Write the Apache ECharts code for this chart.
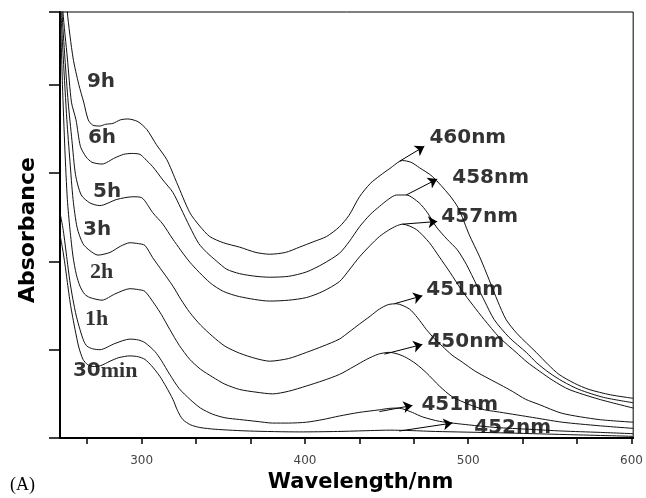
<!DOCTYPE html>
<html>
<head>
<meta charset="utf-8">
<script src="https://cdn.jsdelivr.net/npm/echarts@6/dist/echarts.min.js"></script>
<style>
  html, body { margin: 0; padding: 0; background: #fff; }
  #chart_content { width: 646px; height: 498px; }
</style>
</head>
<body>
<div id="chart_content"></div>
<script>
// absorbance curves, [wavelength nm, absorbance a.u.]
const curve9h = [[253.5,5.3],[254.5,4.82],[258,4.3],[261.5,4.0],[264.5,3.8],[267.3,3.6],[270,3.54],[274.4,3.53],[278,3.55],[282.4,3.56],[287,3.6],[291.6,3.61],[297.7,3.58],[303.2,3.49],[309,3.32],[315.4,3.15],[321.5,2.89],[329.5,2.55],[335.5,2.4],[341.7,2.28],[350,2.21],[360,2.16],[370,2.1],[378.4,2.08],[388,2.1],[396.7,2.16],[405,2.22],[413.2,2.28],[421.1,2.39],[427,2.52],[433.4,2.73],[440,2.88],[446,2.97],[452,3.05],[459.7,3.14],[465,3.12],[470,3.06],[478,2.96],[488.4,2.75],[494,2.6],[500.6,2.3],[507,2.05],[512.8,1.79],[518,1.55],[523.2,1.34],[530,1.18],[541.6,0.97],[549,0.83],[555.6,0.72],[565,0.62],[574,0.55],[587,0.49],[601,0.45]];
const curve6h = [[250.5,5.3],[251.8,4.82],[254.5,4.3],[257,3.8],[259.8,3.6],[262.5,3.3],[266,3.18],[269.6,3.12],[275.7,3.1],[283.6,3.17],[289,3.21],[294,3.22],[298.9,3.21],[302,3.16],[306.8,3.07],[313,2.92],[319.1,2.78],[324,2.6],[329.5,2.39],[335,2.2],[339.9,2.1],[346,2.0],[352.1,1.91],[360,1.86],[370,1.83],[378.4,1.82],[390,1.83],[401,1.88],[411,1.97],[421.1,2.09],[427,2.22],[433.4,2.39],[440,2.53],[445.6,2.62],[451,2.7],[456,2.75],[462.1,2.75],[470,2.66],[475,2.55],[480.4,2.39],[487,2.25],[493.3,2.13],[499,1.96],[504.9,1.74],[510,1.55],[515.9,1.34],[525,1.14],[535.5,0.97],[542,0.85],[549.5,0.74],[558,0.64],[567.8,0.55],[583,0.46],[601,0.4]];
const curve5h = [[250,5.3],[251.2,4.82],[253,4.3],[255,3.8],[257.3,3.37],[259.5,2.98],[263,2.75],[268.3,2.66],[274.4,2.63],[284.8,2.7],[294.6,2.73],[300,2.72],[306.8,2.55],[313,2.42],[319.1,2.25],[329.5,1.99],[341.7,1.76],[350,1.66],[360,1.6],[378.4,1.55],[390,1.56],[401,1.59],[411,1.66],[421.1,1.77],[427,1.9],[433.4,2.05],[440,2.18],[445.6,2.28],[451,2.35],[456,2.4],[459.7,2.42],[468.2,2.36],[476.2,2.21],[482.3,2.05],[489,1.87],[495.7,1.68],[503,1.5],[509.8,1.34],[519,1.14],[529.3,0.97],[536,0.86],[543.4,0.76],[552,0.65],[561.7,0.55],[580,0.44],[601,0.34]];
const curve3h = [[250.6,4.82],[252,4.3],[254.2,3.6],[256.1,3.13],[258,2.7],[260.5,2.38],[264,2.2],[268.3,2.12],[273.2,2.07],[280.6,2.1],[287,2.17],[292.8,2.21],[298,2.2],[302,2.18],[306.8,2.04],[313,1.88],[319.1,1.72],[324,1.57],[329.5,1.42],[336,1.28],[343.5,1.15],[351,1.04],[360,0.96],[370,0.9],[378.4,0.87],[390,0.9],[401,0.97],[411,1.04],[421.1,1.12],[427,1.2],[433.4,1.29],[440,1.38],[445.6,1.46],[451,1.51],[456,1.52],[464,1.46],[469,1.36],[474.3,1.23],[479,1.13],[484.1,1.04],[490,0.94],[496.3,0.86],[504,0.76],[512.8,0.67],[520,0.6],[526.9,0.53],[535,0.44],[543.4,0.38],[557.5,0.28],[580,0.21],[601,0.18]];
const curve2h = [[250.2,4.82],[251.5,4.0],[253,3.26],[254.5,2.7],[256.1,2.36],[258,2.05],[260,1.85],[262.2,1.72],[265,1.63],[268.3,1.59],[275.7,1.56],[283.6,1.63],[292.8,1.69],[298,1.68],[302,1.66],[308.1,1.51],[312,1.4],[317.2,1.23],[323,1.05],[329.5,0.89],[336,0.78],[343.5,0.69],[351,0.61],[360,0.55],[370,0.52],[380.2,0.5],[390,0.53],[401,0.59],[411,0.65],[421.1,0.72],[430,0.81],[437.7,0.89],[445,0.95],[451.7,0.97],[457,0.95],[462.1,0.91],[468,0.84],[474.3,0.74],[482.3,0.59],[490,0.47],[500.6,0.38],[510,0.32],[517,0.3],[537.3,0.24],[557.5,0.18],[580,0.14],[601,0.11]];
const curve1h = [[250,2.55],[252,2.35],[254.3,2.02],[256,1.78],[257.9,1.57],[260,1.38],[262.2,1.23],[264.5,1.1],[266.5,1.04],[270,1.01],[274.4,1.0],[283.6,1.07],[292.8,1.12],[298,1.11],[302,1.08],[308.1,0.98],[312,0.88],[317.2,0.72],[323,0.56],[329.5,0.44],[336,0.34],[343.5,0.27],[351,0.23],[360,0.21],[370,0.19],[380.2,0.17],[390,0.17],[401,0.18],[411,0.21],[421.1,0.25],[433,0.29],[445.6,0.32],[451,0.335],[456,0.34],[460,0.33],[465.8,0.29],[472,0.24],[482.3,0.19],[500,0.15],[517,0.12],[537,0.1],[557.5,0.08],[580,0.065],[601,0.05]];
const curve30min = [[250,2.3],[251.5,2.15],[253,1.97],[254.3,1.79],[256.5,1.5],[259.2,1.23],[261.5,1.03],[264.1,0.89],[267,0.83],[270.2,0.81],[275,0.82],[280.6,0.87],[286,0.91],[292.8,0.93],[298,0.92],[302,0.89],[306,0.82],[311.1,0.7],[315,0.58],[319.1,0.44],[322,0.31],[325.2,0.21],[330,0.15],[335.6,0.12],[345,0.1],[366.1,0.08],[396.7,0.07],[420,0.075],[440,0.085],[452,0.09],[465,0.085],[480,0.075],[518.9,0.06],[560,0.04],[601,0.02]];

const curveNames = ['9h', '6h', '5h', '3h', '2h', '1h', '30min'];
const curveData = [curve9h, curve6h, curve5h, curve3h, curve2h, curve1h, curve30min];
// where each time label sits (left edge, middle)
const curveTagAt = [[266.5,4.03],[267.1,3.4],[270.2,2.79],[264.1,2.36],[268.3,1.87],[265.3,1.34],[257.9,0.76]];

// peak arrows and their wavelength tags
const peakNames = ['460nm', '458nm', '457nm', '451nm', '450nm', '451nm', '452nm'];
const arrowFrom = [[457.8,3.13],[462,2.75],[459.7,2.42],[454.8,1.52],[448.7,0.95],[445.6,0.3],[457.8,0.08]];
const arrowTo = [[473.1,3.3],[481,2.93],[481,2.45],[471.9,1.61],[471.9,1.06],[465.8,0.37],[490.3,0.17]];
const peakTagAt = [[476.2,3.4],[490.2,2.95],[483.5,2.5],[474.3,1.68],[475,1.09],[471.3,0.38],[503.7,0.12]];

const xLabelTicks = [300, 400, 500, 600];
const xMinorTicks = [266.67, 300, 333.33, 366.67, 400, 433.33, 466.67, 500, 533.33, 566.67, 600];

let chart = echarts.init(document.getElementById('chart_content'));

let series = curveData.map(function (d, i) {
    return {
        name: curveNames[i],
        type: 'line',
        data: d,
        showSymbol: false,
        smooth: 0.25,
        lineStyle: { color: '#111', width: 1 },
        markLine: {
            silent: true,
            symbol: ['none', 'arrow'],
            symbolSize: 9,
            label: { show: false },
            lineStyle: { color: '#000', type: 'solid', width: 1 },
            data: [[{ coord: arrowFrom[i] }, { coord: arrowTo[i] }]]
        }
    };
});

series.push({
    type: 'scatter',
    symbolSize: 0,
    silent: true,
    data: curveTagAt.map(function (p, i) { return { value: p, name: curveNames[i] }; }),
    label: {
        show: true,
        position: 'right',
        distance: 0,
        formatter: function (p) {
            if (p.name === '30min') return '{s|30}{t|min}';
            if (p.name === '2h' || p.name === '1h') return '{t|' + p.name + '}';
            return '{s|' + p.name + '}';
        },
        rich: {
            s: { fontFamily: 'DejaVu Sans', fontWeight: 'bold', fontSize: 20, color: '#000' },
            t: { fontFamily: 'Liberation Serif', fontWeight: 'bold', fontSize: 22, color: '#000' }
        }
    }
});

series.push({
    type: 'scatter',
    symbolSize: 0,
    silent: true,
    data: peakTagAt.map(function (p, i) { return { value: p, name: peakNames[i] }; }),
    label: {
        show: true,
        position: 'right',
        distance: 0,
        formatter: '{b}',
        fontFamily: 'DejaVu Sans',
        fontWeight: 'bold',
        fontSize: 20,
        color: '#000'
    }
});

chart.setOption({
    animation: false,
    backgroundColor: '#fff',
    grid: {
        left: 60, right: 12, top: 12, bottom: 59,
        show: true, borderColor: '#000', borderWidth: 1
    },
    xAxis: {
        type: 'value',
        min: 250,
        max: 601,
        name: 'Wavelength/nm',
        nameLocation: 'middle',
        nameGap: 33,
        nameTextStyle: {
            fontFamily: 'DejaVu Sans', fontWeight: 'bold', fontSize: 21, color: '#000',
            padding: [0, 0, 0, 28]
        },
        axisLine: { lineStyle: { color: '#000', width: 2 } },
        axisTick: { inside: false, length: 6, customValues: xMinorTicks, lineStyle: { color: '#000', width: 1.5 } },
        axisLabel: {
            customValues: xLabelTicks, margin: 17,
            fontFamily: 'DejaVu Sans', fontSize: 12, color: '#444'
        },
        splitLine: { show: false }
    },
    yAxis: {
        type: 'value',
        min: 0,
        max: 4.82,
        interval: 1,
        name: 'Absorbance',
        nameLocation: 'middle',
        nameGap: 21,
        nameTextStyle: {
            fontFamily: 'DejaVu Sans', fontWeight: 'bold', fontSize: 22, color: '#000',
            padding: [0, 10, 0, 0]
        },
        axisLine: { lineStyle: { color: '#000', width: 2 } },
        axisTick: { inside: false, length: 11, lineStyle: { color: '#000', width: 1.5 } },
        axisLabel: { show: false },
        splitLine: { show: false }
    },
    graphic: [{
        type: 'text',
        left: 10,
        top: 476,
        style: { text: '(A)', font: '18px "Liberation Serif"', fill: '#000' }
    }],
    series: series
});
</script>
</body>
</html>
